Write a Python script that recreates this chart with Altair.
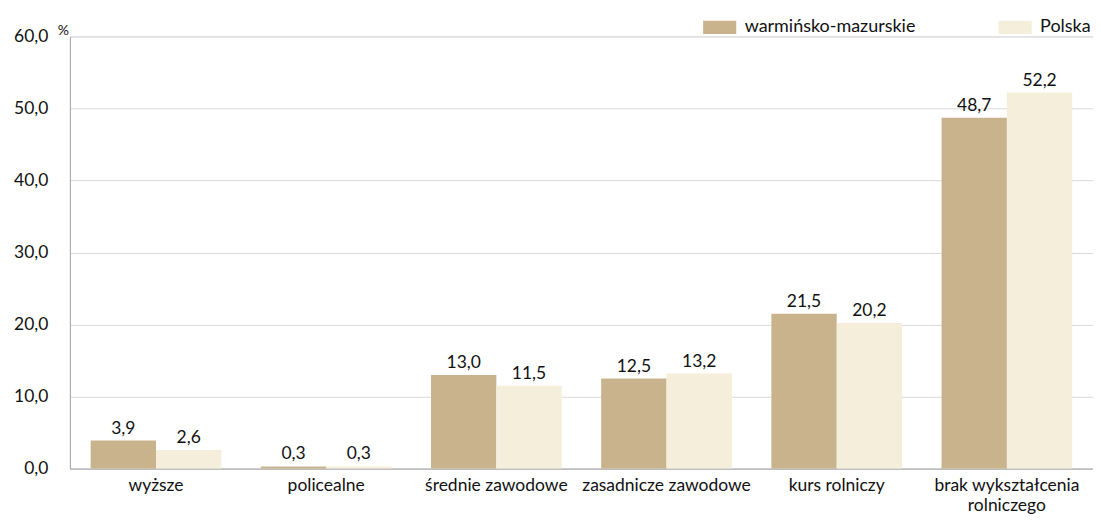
import altair as alt
import pandas as pd

categories = ["wyższe", "policealne", "średnie zawodowe", "zasadnicze zawodowe",
              "kurs rolniczy", "brak wykształcenia rolniczego"]
series = ["warmińsko-mazurskie", "Polska"]
warm = [3.9, 0.3, 13.0, 12.5, 21.5, 48.7]
polska = [2.6, 0.3, 11.5, 13.2, 20.2, 52.2]
colors = ["#C9B38C", "#F4EEDA"]

rows = []
for c, a, b in zip(categories, warm, polska):
    rows.append({"cat": c, "series": series[0], "val": a})
    rows.append({"cat": c, "series": series[1], "val": b})
df = pd.DataFrame(rows)

FONT = "Lato"
FS = 17.5

x = alt.X("cat:N", sort=categories, title=None,
          scale=alt.Scale(paddingInner=0.232, paddingOuter=0.122),
          axis=alt.Axis(labelAngle=0, labelFontSize=FS, labelColor="#111",
                        labelFont=FONT, ticks=False, domainColor="#a6a6a6",
                        labelPadding=8, labelLimit=300, labelLineHeight=20,
                        labelExpr="datum.label == 'brak wykształcenia rolniczego' ? ['brak wykształcenia', 'rolniczego'] : datum.label"))
xo = alt.XOffset("series:N", sort=series, scale=alt.Scale(paddingInner=0))
y = alt.Y("val:Q", scale=alt.Scale(domain=[0, 60]),
          axis=alt.Axis(values=[0, 10, 20, 30, 40, 50, 60], title="%",
                        titleAngle=0, titleX=-7, titleY=-6, titleFontSize=14,
                        titleAlign="center", titleBaseline="middle",
                        titleFontWeight="normal", titleFont=FONT, titleColor="#111",
                        labelFont=FONT, labelFontSize=17.5, labelColor="#111",
                        ticks=False, domainColor="#a6a6a6", labelPadding=22,
                        gridColor="#d9d9d9",
                        labelExpr="replace(format(datum.value, '.1f'), '.', ',')"))

bars = alt.Chart(df).mark_bar().encode(
    x=x, xOffset=xo, y=y,
    color=alt.Color("series:N", sort=series,
                    scale=alt.Scale(domain=series, range=colors),
                    legend=alt.Legend(title=None, orient="none", direction="horizontal",
                                      legendX=634, legendY=-26,
                                      symbolType="M-1,-0.4H1V0.4H-1Z", symbolSize=1100,
                                      symbolStrokeWidth=0, labelFont=FONT, labelFontSize=18,
                                      labelColor="#111", columnPadding=82, symbolOffset=0,
                                      labelOffset=8, labelLimit=400))
)

text = alt.Chart(df).mark_text(dy=-12, fontSize=FS, font=FONT, color="#111").encode(
    x=alt.X("cat:N", sort=categories), xOffset=alt.XOffset("series:N", sort=series),
    y="val:Q",
    text=alt.Text("label:N")
).transform_calculate(label="replace(format(datum.val, '.1f'), '.', ',')")

chart = (bars + text).properties(
    width=1025, height=433,
    autosize=alt.AutoSizeParams(type="none"),
    padding={"left": 62, "top": 28, "right": 0, "bottom": 52},
).configure_view(stroke=None).configure(background="white")

chart.save("out.html", embed_options={"renderer": "svg", "actions": False})
